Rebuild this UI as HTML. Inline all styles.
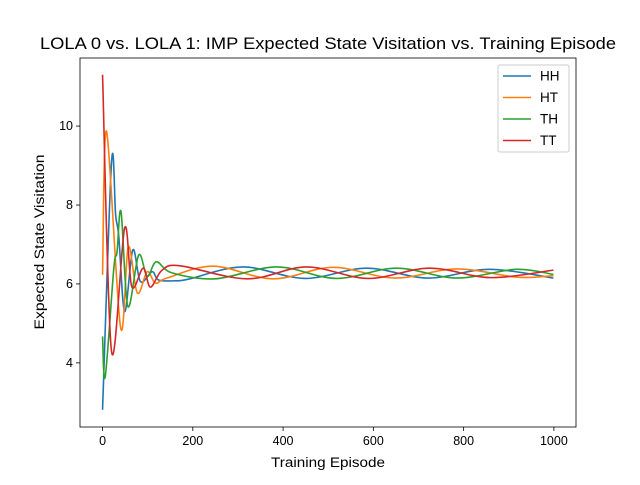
<!DOCTYPE html>
<html><head><meta charset="utf-8"><style>
body{margin:0;background:#fff;}
svg{font-family:"Liberation Sans","DejaVu Sans",sans-serif;}
</style></head><body>
<svg id="chart" width="640" height="480" viewBox="0 0 640 480">
<rect width="640" height="480" fill="#fff"/>
<text x="328" y="49" text-anchor="middle" font-size="16.5" textLength="576" lengthAdjust="spacingAndGlyphs">LOLA 0 vs. LOLA 1: IMP Expected State Visitation vs. Training Episode</text>
<g id="plot"></g>
<rect x="80" y="58" width="496" height="369" fill="none" stroke="#000" stroke-width="0.8"/>
<text x="328" y="467" text-anchor="middle" font-size="13.5" textLength="114" lengthAdjust="spacingAndGlyphs">Training Episode</text>
<text transform="translate(44,242) rotate(-90)" text-anchor="middle" font-size="13.5" textLength="175" lengthAdjust="spacingAndGlyphs">Expected State Visitation</text>
<g id="legend">
<rect x="498" y="65" width="71" height="87" rx="2" fill="#fff" fill-opacity="0.8" stroke="#ccc"/>
</g>
</svg>
<script>
const seriesNames=["HH","HT","TH","TT"];
const colors=["#1f77b4","#ff7f0e","#2ca02c","#d62728"];
const hhX=[0,20,29,36,49,67,84,110,124,161,190,311,448,585,720,857,999];
const hhY=[2.81,9.1,7.75,7.2,5.3,6.86,6.06,6.31,6.1,6.08,6.12,6.43,6.14,6.4,6.15,6.37,6.15];
const htX=[0,9,40,57,77,99,117,143,245,378,510,647,784,920,999];
const htY=[6.23,9.87,4.89,6.94,5.77,6.31,6.02,6.15,6.45,6.13,6.42,6.15,6.38,6.17,6.21];
const thX=[0,6,25,32,41,56,80,99,119,154,250,386,518,651,784,916,999];
const thY=[4.67,3.65,6.4,6.8,7.83,5.43,6.73,6.19,6.56,6.28,6.13,6.43,6.14,6.4,6.15,6.37,6.24];
const ttX=[0,20,49,65,90,106,132,172,320,452,588,724,860,999];
const ttY=[11.3,4.28,7.42,5.92,6.4,5.92,6.35,6.46,6.13,6.43,6.14,6.4,6.16,6.35];
const xTicks=[0,200,400,600,800,1000];
const yTicks=[4,6,8,10];
const allX=[hhX,htX,thX,ttX], allY=[hhY,htY,thY,ttY];
const L=80,R=576,T=58,B=427;
const xMin=-49.95,xMax=1048.95,yMin=2.375,yMax=11.725;
const sx=v=>L+(v-xMin)/(xMax-xMin)*(R-L);
const sy=v=>B-(v-yMin)/(yMax-yMin)*(B-T);
const NS="http://www.w3.org/2000/svg";
const plot=document.getElementById('plot');
const svg=document.getElementById('chart');
function mk(tag,attrs,parent){const e=document.createElementNS(NS,tag);for(const k in attrs)e.setAttribute(k,attrs[k]);parent.appendChild(e);return e;}
xTicks.forEach(v=>{
  const g=mk('g',{},svg);
  
  
  mk('line',{x1:sx(v),x2:sx(v),y1:B,y2:B+4,stroke:'#000','stroke-width':0.8},g);
  const t=mk('text',{x:sx(v),y:B+18,'text-anchor':'middle','font-size':12.5},g);t.textContent=v;
});
yTicks.forEach(v=>{
  const g=mk('g',{},svg);
  
  
  mk('line',{x1:L-4,x2:L,y1:sy(v),y2:sy(v),stroke:'#000','stroke-width':0.8},g);
  const t=mk('text',{x:L-7,y:sy(v)+4,'text-anchor':'end','font-size':12.5},g);t.textContent=v;
});
function path(xs,ys){
  const p=xs.map((x,i)=>[sx(x),sy(ys[i])]);
  let d='M'+p[0][0]+','+p[0][1];
  for(let i=0;i<p.length-1;i++){
    const p0=p[Math.max(i-1,0)],p1=p[i],p2=p[i+1],p3=p[Math.min(i+2,p.length-1)];
    const c1=[p1[0]+(p2[0]-p0[0])/6,p1[1]+(p2[1]-p0[1])/6];
    const c2=[p2[0]-(p3[0]-p1[0])/6,p2[1]-(p3[1]-p1[1])/6];
    d+=' C'+c1[0]+','+c1[1]+' '+c2[0]+','+c2[1]+' '+p2[0]+','+p2[1];
  }
  return d;
}
seriesNames.forEach((n,i)=>{
  const e=mk('path',{d:path(allX[i],allY[i]),fill:'none',stroke:colors[i],'stroke-width':1.6},plot);
  
  
});
const leg=document.getElementById('legend');
seriesNames.forEach((n,i)=>{
  const y=76+i*21.5;
  const g=mk('g',{},leg);
  
  
  mk('line',{x1:503,x2:531,y1:y,y2:y,stroke:colors[i],'stroke-width':1.6},g);
  const t=mk('text',{x:540,y:y+4.5,'font-size':13.5},g);t.textContent=n;
});
</script>
</body></html>
